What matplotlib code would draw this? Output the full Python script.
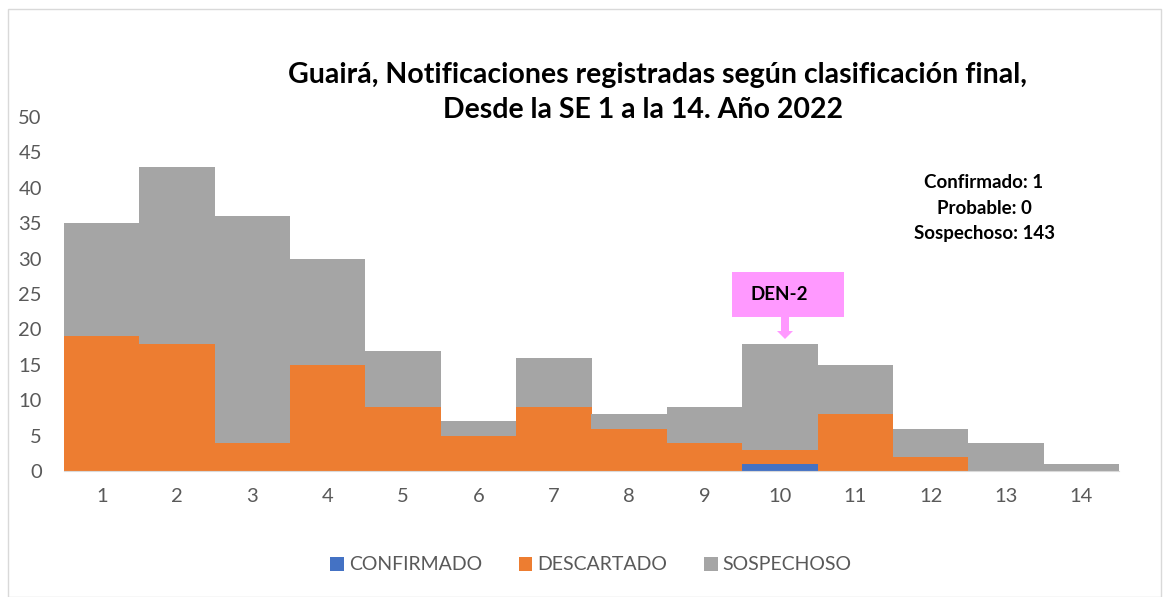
import matplotlib.pyplot as plt
import matplotlib.patches as mplpatches
import numpy as np

plt.rcParams['font.family'] = ['Lato', 'DejaVu Sans']

weeks = ['1', '2', '3', '4', '5', '6', '7', '8', '9', '10', '11', '12', '13', '14']
confirmado = [0, 0, 0, 0, 0, 0, 0, 0, 0, 1, 0, 0, 0, 0]
descartado = [19, 18, 4, 15, 9, 5, 9, 6, 4, 2, 8, 2, 0, 0]
sospechoso = [16, 25, 32, 15, 8, 2, 7, 2, 5, 15, 7, 4, 4, 1]

c_blue = '#4472C4'
c_orange = '#ED7D31'
c_gray = '#A5A5A5'
txt_gray = '#595959'

W, H = 1163, 597
fig = plt.figure(figsize=(W / 100, H / 100), dpi=100)

# outer chart border
fig.patches.append(mplpatches.Rectangle((8 / W, 0), (W - 10) / W, (H - 9) / H,
                                        transform=fig.transFigure, fill=False,
                                        edgecolor='#D9D9D9', linewidth=1))

ax = fig.add_axes([64 / W, 1 - 471 / H, (1119 - 64) / W, (471 - 117) / H])

x = np.arange(1, len(weeks) + 1)
conf = np.array(confirmado)
desc = np.array(descartado)
sosp = np.array(sospechoso)

ax.bar(x, conf, width=1.0, color=c_blue, label='CONFIRMADO', linewidth=0)
ax.bar(x, desc, width=1.0, bottom=conf, color=c_orange, label='DESCARTADO', linewidth=0)
ax.bar(x, sosp, width=1.0, bottom=conf + desc, color=c_gray, label='SOSPECHOSO', linewidth=0)

ax.set_xlim(0.5, 14.5)
ax.set_ylim(0, 50)
ax.set_yticks(range(0, 51, 5))
ax.set_xticks(x)
ax.set_xticklabels(weeks)
ax.tick_params(axis='both', length=0, labelsize=14.5, labelcolor=txt_gray)
ax.tick_params(axis='x', pad=12)
ax.tick_params(axis='y', pad=16)
for s in ['top', 'right', 'left']:
    ax.spines[s].set_visible(False)
ax.spines['bottom'].set_color('#D9D9D9')

# title
fig.text(657 / W, 1 - 75 / H, 'Guairá, Notificaciones registradas según clasificación final,',
         ha='center', va='center', fontsize=20.5, fontweight='bold')
fig.text(643 / W, 1 - 110 / H, 'Desde la SE 1 a la 14. Año 2022',
         ha='center', va='center', fontsize=20.5, fontweight='bold')

# summary text
for i, t in enumerate(['Confirmado: 1', 'Probable: 0', 'Sospechoso: 143']):
    fig.text(984 / W, 1 - (183 + 25 * i) / H, t, ha='center', va='center',
             fontsize=13.5, fontweight='bold')

# DEN-2 callout
fig.patches.append(mplpatches.Rectangle((732 / W, 1 - 317 / H), 112 / W, 45 / H,
                                        transform=fig.transFigure,
                                        facecolor='#FF99FF', edgecolor='none'))
fig.patches.append(mplpatches.FancyArrow(785 / W, 1 - 317 / H, 0, -22 / H,
                                         width=8 / W, head_width=16 / W,
                                         head_length=8 / H, length_includes_head=True,
                                         transform=fig.transFigure,
                                         facecolor='#FF99FF', edgecolor='none'))
fig.text(779 / W, 1 - 295 / H, 'DEN-2', ha='center', va='center',
         fontsize=13.5, fontweight='bold')

leg = fig.legend(loc='center', bbox_to_anchor=(591 / W, 1 - 565 / H), ncol=3,
                 frameon=False, fontsize=14, handlelength=0.7, handleheight=0.7,
                 handletextpad=0.25, columnspacing=1.9)
for t in leg.get_texts():
    t.set_color(txt_gray)

plt.savefig('out.png', dpi=100)
